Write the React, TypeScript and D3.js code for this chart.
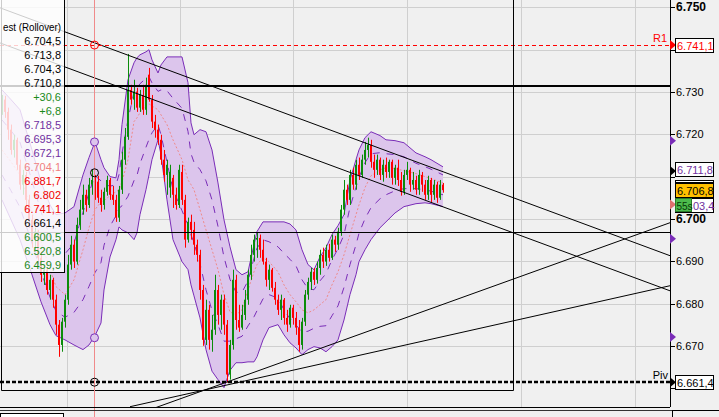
import React from "react";
import * as d3 from "d3";

// ---------- candle data (USD/CNH style quotes) ----------
const opens = [
  6.7258, 6.7282, 6.7253, 6.7211, 6.7163, 6.7187, 6.7128, 6.7081, 6.7104, 6.7045,
  6.6998, 6.6951, 6.6970, 6.6908, 6.6868, 6.6880, 6.6832, 6.6856, 6.6809, 6.6750,
  6.6702, 6.6757, 6.6809, 6.6892, 6.6939, 6.6899, 6.6986, 6.7022, 6.7057, 6.7033,
  6.7081, 6.7092, 6.7088, 6.7050, 6.7033, 6.7064, 6.7092, 6.7057, 6.7045, 6.7003,
  6.7069, 6.7140, 6.7194, 6.7305, 6.7282, 6.7301, 6.7263, 6.7293, 6.7258, 6.7341,
  6.7282, 6.7230, 6.7211, 6.7187, 6.7140, 6.7104, 6.7074, 6.7097, 6.7057, 6.7033,
  6.7111, 6.7045, 6.6951, 6.6993, 6.6974, 6.6939, 6.6915, 6.6832, 6.6714, 6.6785,
  6.6714, 6.6738, 6.6832, 6.6773, 6.6809, 6.6750, 6.6632, 6.6702, 6.6856, 6.6761,
  6.6743, 6.6773, 6.6809, 6.6868, 6.6915, 6.6951, 6.6955, 6.6927, 6.6899, 6.6856,
  6.6880, 6.6837, 6.6809, 6.6785, 6.6809, 6.6766, 6.6750, 6.6790, 6.6766, 6.6743,
  6.6702, 6.6757, 6.6821, 6.6851, 6.6875, 6.6856, 6.6884, 6.6915, 6.6899, 6.6927,
  6.6908, 6.6951, 6.6939, 6.6970, 6.7022, 6.7069, 6.7045, 6.7104, 6.7081, 6.7128,
  6.7104, 6.7140, 6.7163, 6.7175, 6.7135, 6.7116, 6.7140, 6.7104, 6.7128, 6.7111,
  6.7135, 6.7097, 6.7121, 6.7092, 6.7064, 6.7104, 6.7116, 6.7081, 6.7092, 6.7069,
  6.7104, 6.7081, 6.7057, 6.7092, 6.7057, 6.7081, 6.7050, 6.7081,
];
const highs = [
  6.7293, 6.7291, 6.7263, 6.7223, 6.7199, 6.7192, 6.7140, 6.7116, 6.7111, 6.7057,
  6.7010, 6.6979, 6.6974, 6.6922, 6.6892, 6.6884, 6.6868, 6.6861, 6.6821, 6.6761,
  6.6766, 6.6821, 6.6915, 6.6960, 6.6951, 6.7003, 6.7045, 6.7081, 6.7069, 6.7097,
  6.7116, 6.7104, 6.7102, 6.7069, 6.7074, 6.7102, 6.7097, 6.7078, 6.7057, 6.7078,
  6.7159, 6.7215, 6.7390, 6.7317, 6.7329, 6.7310, 6.7305, 6.7317, 6.7334, 6.7357,
  6.7293, 6.7246, 6.7223, 6.7199, 6.7163, 6.7140, 6.7128, 6.7104, 6.7074, 6.7128,
  6.7128, 6.7057, 6.7003, 6.7010, 6.6993, 6.6951, 6.6927, 6.6844, 6.6809, 6.6797,
  6.6773, 6.6868, 6.6844, 6.6821, 6.6821, 6.6761, 6.6714, 6.6880, 6.6868, 6.6797,
  6.6797, 6.6832, 6.6880, 6.6939, 6.6963, 6.6967, 6.6963, 6.6951, 6.6908, 6.6892,
  6.6884, 6.6851, 6.6821, 6.6821, 6.6813, 6.6785, 6.6797, 6.6797, 6.6780, 6.6761,
  6.6766, 6.6832, 6.6861, 6.6884, 6.6884, 6.6899, 6.6927, 6.6932, 6.6939, 6.6941,
  6.6963, 6.6960, 6.6979, 6.7033, 6.7092, 6.7081, 6.7116, 6.7121, 6.7140, 6.7145,
  6.7152, 6.7182, 6.7192, 6.7187, 6.7152, 6.7152, 6.7145, 6.7140, 6.7145, 6.7140,
  6.7140, 6.7128, 6.7140, 6.7111, 6.7116, 6.7135, 6.7121, 6.7111, 6.7102, 6.7116,
  6.7111, 6.7092, 6.7102, 6.7097, 6.7092, 6.7088, 6.7092, 6.7085,
];
const lows = [
  6.7246, 6.7239, 6.7187, 6.7152, 6.7145, 6.7116, 6.7069, 6.7057, 6.7022, 6.6979,
  6.6932, 6.6927, 6.6892, 6.6851, 6.6844, 6.6821, 6.6809, 6.6790, 6.6726, 6.6674,
  6.6686, 6.6743, 6.6797, 6.6880, 6.6884, 6.6892, 6.6974, 6.7010, 6.7017, 6.7026,
  6.7057, 6.7045, 6.7038, 6.7017, 6.7022, 6.7055, 6.7045, 6.7033, 6.6993, 6.6993,
  6.7059, 6.7128, 6.7187, 6.7270, 6.7258, 6.7253, 6.7253, 6.7246, 6.7246, 6.7277,
  6.7215, 6.7192, 6.7175, 6.7128, 6.7088, 6.7057, 6.7050, 6.7026, 6.7022, 6.7026,
  6.7033, 6.6932, 6.6944, 6.6951, 6.6915, 6.6899, 6.6809, 6.6700, 6.6702, 6.6691,
  6.6686, 6.6726, 6.6750, 6.6738, 6.6726, 6.6613, 6.6620, 6.6691, 6.6738, 6.6733,
  6.6738, 6.6761, 6.6797, 6.6856, 6.6899, 6.6908, 6.6908, 6.6892, 6.6840, 6.6832,
  6.6828, 6.6797, 6.6773, 6.6761, 6.6750, 6.6733, 6.6743, 6.6750, 6.6726, 6.6686,
  6.6691, 6.6747, 6.6809, 6.6832, 6.6844, 6.6847, 6.6868, 6.6884, 6.6889, 6.6899,
  6.6903, 6.6922, 6.6927, 6.6960, 6.7010, 6.7033, 6.7033, 6.7069, 6.7069, 6.7092,
  6.7097, 6.7128, 6.7145, 6.7121, 6.7097, 6.7104, 6.7092, 6.7088, 6.7097, 6.7097,
  6.7081, 6.7081, 6.7078, 6.7055, 6.7057, 6.7092, 6.7064, 6.7069, 6.7057, 6.7057,
  6.7064, 6.7045, 6.7045, 6.7040, 6.7045, 6.7038, 6.7045, 6.7062,
];
const closes = [
  6.7282, 6.7253, 6.7211, 6.7163, 6.7187, 6.7128, 6.7081, 6.7104, 6.7045, 6.6998,
  6.6951, 6.6970, 6.6908, 6.6868, 6.6880, 6.6832, 6.6856, 6.6809, 6.6750, 6.6702,
  6.6757, 6.6809, 6.6892, 6.6939, 6.6899, 6.6986, 6.7022, 6.7057, 6.7033, 6.7081,
  6.7092, 6.7057, 6.7050, 6.7033, 6.7064, 6.7092, 6.7057, 6.7045, 6.7003, 6.7069,
  6.7140, 6.7194, 6.7305, 6.7282, 6.7301, 6.7263, 6.7293, 6.7258, 6.7317, 6.7282,
  6.7230, 6.7211, 6.7187, 6.7140, 6.7104, 6.7128, 6.7111, 6.7057, 6.7033, 6.7116,
  6.7045, 6.6951, 6.6993, 6.6974, 6.6939, 6.6915, 6.6832, 6.6714, 6.6785, 6.6714,
  6.6738, 6.6832, 6.6773, 6.6809, 6.6750, 6.6632, 6.6702, 6.6856, 6.6761, 6.6743,
  6.6773, 6.6809, 6.6868, 6.6915, 6.6951, 6.6955, 6.6927, 6.6899, 6.6856, 6.6880,
  6.6837, 6.6809, 6.6785, 6.6809, 6.6766, 6.6750, 6.6790, 6.6766, 6.6743, 6.6702,
  6.6757, 6.6821, 6.6851, 6.6875, 6.6856, 6.6884, 6.6915, 6.6899, 6.6927, 6.6908,
  6.6951, 6.6939, 6.6970, 6.7022, 6.7069, 6.7045, 6.7104, 6.7081, 6.7128, 6.7104,
  6.7140, 6.7163, 6.7175, 6.7135, 6.7116, 6.7140, 6.7104, 6.7128, 6.7111, 6.7135,
  6.7097, 6.7121, 6.7092, 6.7064, 6.7104, 6.7116, 6.7081, 6.7092, 6.7069, 6.7104,
  6.7081, 6.7057, 6.7092, 6.7057, 6.7081, 6.7050, 6.7081, 6.7068,
];

// ---------- Bollinger band ----------
const bandIdx = [0, 3, 6, 10, 13, 16, 18, 21, 24, 27, 29, 31, 33, 34, 36, 38, 39, 40, 42, 44, 45, 46, 48, 49, 50, 52, 53, 55, 57, 60, 62, 63, 64, 66, 68, 70, 72, 74, 76, 78, 80, 82, 84, 85, 87, 89, 92, 94, 96, 98, 100, 102, 104, 106, 108, 110, 112, 114, 116, 118, 119, 121, 123, 126, 128, 131, 134, 138, 141, 143, 147];
const bandUpper = [6.7305, 6.7282, 6.7258, 6.7163, 6.7088, 6.7033, 6.7010, 6.7014, 6.7029, 6.7104, 6.7145, 6.7182, 6.7140, 6.7121, 6.7100, 6.7097, 6.7140, 6.7223, 6.7329, 6.7369, 6.7381, 6.7388, 6.7395, 6.7400, 6.7376, 6.7345, 6.7364, 6.7383, 6.7383, 6.7383, 6.7322, 6.7227, 6.7199, 6.7211, 6.7206, 6.7163, 6.7085, 6.6998, 6.6934, 6.6880, 6.6868, 6.6875, 6.6939, 6.6970, 6.6993, 6.6993, 6.6993, 6.6993, 6.6988, 6.6974, 6.6927, 6.6892, 6.6880, 6.6910, 6.6932, 6.6963, 6.6984, 6.7010, 6.7092, 6.7140, 6.7163, 6.7192, 6.7206, 6.7197, 6.7187, 6.7185, 6.7180, 6.7156, 6.7147, 6.7140, 6.7123];
const bandMid = [6.7163, 6.7135, 6.7104, 6.7017, 6.6946, 6.6880, 6.6840, 6.6821, 6.6856, 6.6927, 6.6979, 6.7022, 6.7040, 6.7043, 6.7055, 6.7064, 6.7069, 6.7088, 6.7140, 6.7230, 6.7239, 6.7251, 6.7270, 6.7272, 6.7267, 6.7258, 6.7246, 6.7223, 6.7187, 6.7140, 6.7092, 6.7081, 6.7069, 6.7022, 6.6974, 6.6927, 6.6880, 6.6821, 6.6780, 6.6773, 6.6785, 6.6832, 6.6875, 6.6892, 6.6908, 6.6899, 6.6875, 6.6844, 6.6821, 6.6804, 6.6785, 6.6778, 6.6785, 6.6797, 6.6809, 6.6844, 6.6875, 6.6915, 6.6963, 6.7010, 6.7033, 6.7074, 6.7102, 6.7116, 6.7121, 6.7119, 6.7114, 6.7107, 6.7100, 6.7095, 6.7085];
const bandLower = [6.7045, 6.6998, 6.6951, 6.6868, 6.6804, 6.6750, 6.6724, 6.6714, 6.6702, 6.6691, 6.6702, 6.6724, 6.6754, 6.6832, 6.6910, 6.6951, 6.6981, 6.6974, 6.6967, 6.6951, 6.6967, 6.7010, 6.7069, 6.7104, 6.7140, 6.7187, 6.7152, 6.7045, 6.6951, 6.6899, 6.6880, 6.6844, 6.6818, 6.6766, 6.6691, 6.6640, 6.6620, 6.6601, 6.6642, 6.6660, 6.6660, 6.6662, 6.6662, 6.6674, 6.6714, 6.6743, 6.6750, 6.6726, 6.6707, 6.6695, 6.6679, 6.6691, 6.6698, 6.6695, 6.6686, 6.6698, 6.6714, 6.6761, 6.6821, 6.6868, 6.6899, 6.6927, 6.6951, 6.6979, 6.6993, 6.7014, 6.7029, 6.7036, 6.7038, 6.7036, 6.7029];

// ---------- axis ----------
const yTicks = [6.75, 6.74, 6.73, 6.72, 6.71, 6.70, 6.69, 6.68, 6.67, 6.66];
const yTickLabels = ["6.750", "", "6.730", "6.720", "", "6.700", "6.690", "6.680", "6.670", ""];
const boldTickLabels = ["6.750", "6.700"];
const gridPrices = [6.75, 6.74, 6.73, 6.72, 6.71, 6.70, 6.69, 6.68, 6.67];
const gridIdx = [21.67, 59.33, 97, 135, 173, 211];

// ---------- drawings ----------
const trendStartIdx = [-0.67, -0.67, 42.67, 42.67];
const trendStartVal = [6.7499, 6.7416, 6.6532, 6.6556];
const trendEndIdx = [222.67, 222.67, 222.67, 222.67];
const trendEndVal = [6.6913, 6.6830, 6.6991, 6.6842];
const hLineThick = 6.7315;
const hLineThin = 6.6970;
const R1 = 6.7411;
const PIVOT = 6.6614;
const rectIdx = [-0.33, 170.33];
const rectBottom = 6.6596;
const cursorIdx = 30.67;
const cursorMarks = [6.7411, 6.7182, 6.7109, 6.6719, 6.6614];
const axisTriangles = [6.7185, 6.6953, 6.6721];
const lastPrice = 6.7068;
const bandTopNow = 6.7118;
const bidNow = 6.7034;

// ---------- legend ----------
const legendHeader = "est (Rollover)";
const legendLabels = ["6.704,5", "6.713,8", "6.704,3", "6.710,8", "+30,6", "+6,8", "6.718,5", "6.695,3", "6.672,1", "6.704,1", "6.881,7", "6.802", "6.741,1", "6.661,4", "6.600,5", "6.520,8", "6.459,9"];
const legendKinds = ["k", "k", "k", "k", "g", "g", "p", "p", "p", "s", "r", "r", "r", "k", "g", "g", "g"];

const GREEN = "#0b8c0b";
const RED = "#ff0000";
const PURPLE = "#7a2db8";
const PURPLE_TXT = "#7030a0";
const BAND_FILL = "#dcc5ec";
const SALMON = "#ef8a8a";
const GRID = "#cfcfcf";
const BG = "#f0f0f0";
const FONT = "'Liberation Sans', Arial, sans-serif";

const kindColor: Record<string, string> = { k: "#000", g: "#1a8a1a", p: PURPLE_TXT, s: "#f08080", r: "#f00000" };

export default function App() {
  const W = 719, H = 417;
  const PR = 670, PB = 407;
  const x = d3.scaleLinear().domain([0, 222.67]).range([2, 670]);
  const y = d3.scaleLinear().domain([6.66, 6.75]).range([388.1, 7.4]);
  const cr = (v: number) => Math.round(v) + 0.5;

  const area = d3.area<number>()
    .x((d) => x(d))
    .y0((_, k) => y(bandLower[k]))
    .y1((_, k) => y(bandUpper[k]));
  const lineOf = (vals: number[]) =>
    d3.line<number>().x((d) => x(d)).y((_, k) => y(vals[k]))(bandIdx) || "";
  const innerUp = bandMid.map((m, k) => m + (bandUpper[k] - m) / 2);
  const innerLo = bandMid.map((m, k) => m - (m - bandLower[k]) / 2);

  const n = Math.min(opens.length, highs.length, lows.length, closes.length);
  const candles = [];
  for (let i = 0; i < n; i++) {
    const o = opens[i], c = closes[i];
    const col = c >= o ? GREEN : RED;
    const cx = Math.round(x(i));
    const yh = y(highs[i]), yl = y(lows[i]);
    const yt = y(Math.max(o, c)), yb = y(Math.min(o, c));
    candles.push(
      <g key={i}>
        <rect x={cx} y={yh} width={1} height={Math.max(1, yl - yh)} fill={col} />
        <rect x={cx - 1} y={yt} width={2} height={Math.max(1, yb - yt)} fill={col} />
      </g>
    );
  }

  const tri = (yy: number, col: string, k: string) => (
    <path key={k} d={`M${PR},${yy - 5}L${PR + 6},${yy}L${PR},${yy + 5}Z`} fill={col} />
  );
  const box = (yy: number, fill: string, text: string, color: string, k: string, tx = 677) => (
    <g key={k}>
      <rect x={675.5} y={Math.round(yy) - 6.5} width={38} height={14} fill={fill} stroke="#000" strokeWidth={1} />
      <text x={tx} y={Math.round(yy) + 4.5} fontSize={11} fill={color} fontFamily={FONT}>{text}</text>
    </g>
  );

  const cursorColors = [RED, PURPLE, "#000", PURPLE, "#000"];
  const cursorFills = ["none", BAND_FILL, "none", BAND_FILL, "none"];

  return (
    <svg width={W} height={H} style={{ position: "absolute", left: 0, top: 0, display: "block" }} fontFamily={FONT}>
      <defs>
        <clipPath id="plot">
          <rect x={0} y={0} width={PR} height={PB} />
        </clipPath>
      </defs>
      <rect x={0} y={0} width={W} height={H} fill={BG} />

      <g clipPath="url(#plot)">
        {gridPrices.map((p, k) => (
          <line key={"gh" + k} x1={0} x2={PR} y1={cr(y(p))} y2={cr(y(p))} stroke={GRID} />
        ))}
        {gridIdx.map((g, k) => (
          <line key={"gv" + k} y1={0} y2={PB} x1={cr(x(g))} x2={cr(x(g))} stroke={GRID} />
        ))}

        <path d={area(bandIdx) || ""} fill={BAND_FILL} />
        <path d={lineOf(bandUpper)} fill="none" stroke={PURPLE} strokeWidth={1} />
        <path d={lineOf(bandLower)} fill="none" stroke={PURPLE} strokeWidth={1} />
        <path d={lineOf(innerUp)} fill="none" stroke={PURPLE} strokeWidth={1} strokeDasharray="7,7" />
        <path d={lineOf(innerLo)} fill="none" stroke={PURPLE} strokeWidth={1} strokeDasharray="7,7" />
        <path d={lineOf(bandMid)} fill="none" stroke={SALMON} strokeWidth={1} strokeDasharray="2,2" />

        {candles}

        {trendStartIdx.map((s, k) => (
          <line key={"t" + k} x1={x(s)} y1={y(trendStartVal[k])} x2={x(trendEndIdx[k])} y2={y(trendEndVal[k])} stroke="#000" strokeWidth={1} />
        ))}
        <line x1={0} x2={PR} y1={Math.round(y(hLineThick))} y2={Math.round(y(hLineThick))} stroke="#000" strokeWidth={2} />
        <line x1={0} x2={PR} y1={cr(y(hLineThin))} y2={cr(y(hLineThin))} stroke="#000" strokeWidth={1} />
        <line x1={0} x2={PR} y1={cr(y(R1))} y2={cr(y(R1))} stroke={RED} strokeWidth={1} strokeDasharray="4,3" />
        <line x1={0} x2={PR} y1={Math.round(y(PIVOT))} y2={Math.round(y(PIVOT))} stroke="#000" strokeWidth={2.5} strokeDasharray="4,2" />

        <path
          d={`M${cr(x(rectIdx[0]))},-5V${cr(y(rectBottom))}H${cr(x(rectIdx[1]))}V-5`}
          fill="none" stroke="#000" strokeWidth={1}
        />
      </g>

      <text x={667} y={42} fontSize={11} fill={RED} textAnchor="end">R1</text>
      <text x={668} y={379} fontSize={11} fill="#000" textAnchor="end">Piv</text>

      {/* cursor */}
      <line x1={cr(x(cursorIdx))} x2={cr(x(cursorIdx))} y1={0} y2={H} stroke="#f08a8a" strokeWidth={1} />
      {cursorMarks.map((v, k) => (
        <circle key={"cm" + k} cx={cr(x(cursorIdx))} cy={y(v)} r={4} fill={cursorFills[k]} stroke={cursorColors[k]} strokeWidth={1} />
      ))}

      {/* legend */}
      <rect x={-1} y={-1} width={65.5} height={273.5} fill="#ffffff" fillOpacity={0.8} stroke="#000" strokeWidth={1} />
      <text x={61} y={31} fontSize={11} textAnchor="end" fill="#000" textLength={58} lengthAdjust="spacingAndGlyphs">{legendHeader}</text>
      {legendLabels.map((t, k) => (
        <text key={"lg" + k} x={61} y={45 + 14 * k} fontSize={11} textAnchor="end" fill={kindColor[legendKinds[k]]}>{t}</text>
      ))}

      {/* right axis */}
      <line x1={PR + 0.5} x2={PR + 0.5} y1={0} y2={PB} stroke="#000" />
      {yTicks.map((t, k) => {
        const yy = y(t);
        const lab = yTickLabels[k];
        const bold = boldTickLabels.includes(lab);
        return (
          <g key={"yt" + k}>
            <line x1={PR} x2={PR + 5} y1={cr(yy)} y2={cr(yy)} stroke="#000" />
            {lab ? (
              <text x={676} y={yy + 4} fontSize={bold ? 12 : 11} fontWeight={bold ? "bold" : "normal"} fill="#000">{lab}</text>
            ) : null}
          </g>
        );
      })}

      {axisTriangles.map((v, k) => tri(y(v), PURPLE, "at" + k))}
      {tri(y(R1), RED, "tr1")}
      {tri(y(bandTopNow) + 2, "#000", "tblk")}
      {tri(y(bidNow), "#e07070", "tsal")}
      {tri(y(PIVOT), "#000", "tpiv")}

      {box(y(R1), "#ffffff", "6.741,1", RED, "b1")}
      {box(y(bandTopNow), "#ffffff", "6.711,8", PURPLE_TXT, "b2")}
      <rect x={675.5} y={180.5} width={38} height={2} fill="#ffffff" stroke="#000" />
      {box(y(lastPrice), "#ffc000", "6.706,8", "#000", "b3")}
      {box(y(bidNow), "#ffffff", "03,4", PURPLE_TXT, "b4", 693)}
      <rect x={675.5} y={Math.round(y(bidNow)) - 6.5} width={16} height={13} fill="#4cbb4c" stroke="#2a7a2a" />
      <text x={676.5} y={Math.round(y(bidNow)) + 4.5} fontSize={10} fill="#063806">55s</text>
      {box(y(PIVOT), "#ffffff", "6.661,4", "#000", "b5")}

      {/* bottom panel */}
      <line x1={0} x2={PR} y1={407.5} y2={407.5} stroke="#000" />
      <line x1={0} x2={W} y1={410.5} y2={410.5} stroke="#333" />
      <rect x={672.5} y={410.5} width={50} height={10} fill="none" stroke="#000" />
      <rect x={0.5} y={413.5} width={63} height={10} fill="#ffffff" stroke="#000" />
    </svg>
  );
}
